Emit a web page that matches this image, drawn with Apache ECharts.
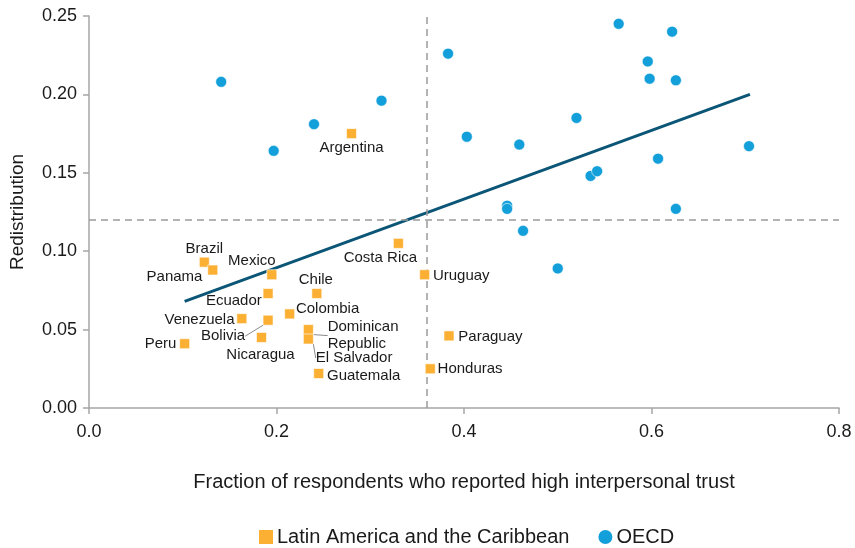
<!DOCTYPE html>
<html>
<head>
<meta charset="utf-8">
<script src="https://cdn.jsdelivr.net/npm/echarts@6/dist/echarts.min.js"></script>
<style>
html,body{margin:0;padding:0;background:#fff;}
#chart{width:855px;height:548px;}
</style>
</head>
<body>
<div id="chart"></div>
<script>
// ---- data ----
const lacNames = ['Argentina','Brazil','Panama','Mexico','Ecuador','Chile','Colombia','Venezuela','Bolivia','Nicaragua','Peru','Dominican\nRepublic','El Salvador','Guatemala','Costa Rica','Uruguay','Paraguay','Honduras'];
const lacTrust = [0.280,0.123,0.132,0.195,0.191,0.243,0.214,0.163,0.191,0.184,0.102,0.234,0.234,0.245,0.330,0.358,0.384,0.364];
const lacRedist = [0.175,0.093,0.088,0.085,0.073,0.073,0.060,0.057,0.056,0.045,0.041,0.050,0.044,0.022,0.105,0.085,0.046,0.025];

const oecdTrust = [0.141,0.197,0.240,0.312,0.383,0.403,0.459,0.520,0.565,0.622,0.596,0.598,0.626,0.704,0.607,0.535,0.542,0.446,0.446,0.626,0.463,0.500];
const oecdRedist = [0.208,0.164,0.181,0.196,0.226,0.173,0.168,0.185,0.245,0.240,0.221,0.210,0.209,0.167,0.159,0.148,0.151,0.129,0.127,0.127,0.113,0.089];

const trendTrust = [0.102,0.705];
const trendRedist = [0.068,0.200];

const avgTrust = 0.365;
const avgRedist = 0.122;

const xTickLabels = ['0.0','0.2','0.4','0.6','0.8'];
const yTickLabels = ['0.00','0.05','0.10','0.15','0.20','0.25'];

const seriesNames = ['Latin America and the Caribbean','OECD'];
const xTitle = 'Fraction of respondents who reported high interpersonal trust';
const yTitle = 'Redistribution';

// ---- label placement (styles, kept separate from data) ----
const labelPlace = {
  'Argentina': {position:'inside', shift:[0,14]},
  'Brazil': {position:'inside', shift:[0,-13]},
  'Panama': {position:'left', distance:5, shift:[0,6.5]},
  'Mexico': {position:'inside', shift:[-20,-14]},
  'Ecuador': {position:'left', distance:1, shift:[0,7]},
  'Chile': {position:'inside', shift:[-1,-14]},
  'Colombia': {position:'right', distance:1, shift:[0,-5.5]},
  'Venezuela': {position:'left', distance:2, shift:[0,1]},
  'Bolivia': {position:'inside', shift:[-45,16], leader:true},
  'Nicaragua': {position:'inside', shift:[-1,17.5]},
  'Peru': {position:'left', distance:3, shift:[0,0]},
  'Dominican\nRepublic': {position:'right', distance:5, shift:[9,6], leader:true},
  'El Salvador': {position:'right', distance:5, shift:[-3,19], leader:true},
  'Guatemala': {position:'right', distance:3, shift:[0,2]},
  'Costa Rica': {position:'inside', shift:[-18,14]},
  'Uruguay': {position:'right', distance:3, shift:[0,1.5]},
  'Paraguay': {position:'right', distance:4, shift:[0,1]},
  'Honduras': {position:'right', distance:2, shift:[0,0.5]}
};

const FONT = '"Liberation Sans", Arial, sans-serif';
const ORANGE = '#FBB034';
const BLUE = '#129FDA';
const TEXT = '#1a1a1a';

const lacData = lacNames.map((n,i) => {
  const p = labelPlace[n];
  const item = {
    name: n,
    value: [lacTrust[i], lacRedist[i]],
    label: {position: p.position}
  };
  if (p.distance !== undefined) item.label.distance = p.distance;
  item.labelLine = {show: !!p.leader};
  return item;
});
const oecdData = oecdTrust.map((x,i) => [x, oecdRedist[i]]);
const trendData = trendTrust.map((x,i) => [x, trendRedist[i]]);

const chart = echarts.init(document.getElementById('chart'), null, {renderer:'canvas'});
chart.setOption({
  animation: false,
  textStyle: {fontFamily: FONT},
  grid: {left: 89, right: 16, top: 16, bottom: 140, containLabel: false},
  legend: {
    data: [{name: seriesNames[0], icon: 'rect'}, {name: seriesNames[1], icon: 'circle'}],
    left: 252, top: 522,
    itemWidth: 16, itemHeight: 16, itemGap: 27,
    textStyle: {fontFamily: FONT, fontSize: 20, color: TEXT, padding: [0,0,0,-2]}
  },
  xAxis: {
    type: 'value', min: 0, max: 0.8, interval: 0.2,
    name: xTitle, nameLocation: 'middle', nameGap: 64,
    nameTextStyle: {fontFamily: FONT, fontSize: 20, color: TEXT},
    axisLine: {show: true, lineStyle: {color: '#a6a6a6', width: 1.5}},
    axisTick: {show: true, length: 6, lineStyle: {color: '#a6a6a6', width: 1.5}},
    axisLabel: {fontFamily: FONT, fontSize: 18, color: TEXT, margin: 15,
      formatter: (v) => xTickLabels[Math.round(v/0.2)]},
    splitLine: {show: false}
  },
  yAxis: {
    type: 'value', min: 0, max: 0.25, interval: 0.05,
    name: yTitle, nameLocation: 'middle', nameGap: 62, nameRotate: 90,
    nameTextStyle: {fontFamily: FONT, fontSize: 19, color: TEXT},
    axisLine: {show: true, lineStyle: {color: '#a6a6a6', width: 1.5}},
    axisTick: {show: true, length: 6, lineStyle: {color: '#a6a6a6', width: 1.5}},
    axisLabel: {fontFamily: FONT, fontSize: 18, color: TEXT, margin: 12,
      formatter: (v) => yTickLabels[Math.round(v/0.05)]},
    splitLine: {show: false}
  },
  series: [
    {
      name: 'ref', type: 'line', data: [], silent: true,
      markLine: {
        silent: true, symbol: ['none','none'], label: {show: false},
        lineStyle: {color: '#9a9a9a', type: [7,5], width: 1.5},
        data: [{xAxis: avgTrust}, {yAxis: avgRedist}]
      }
    },
    {
      name: 'trend', type: 'line', data: trendData, showSymbol: false, symbol: 'none',
      lineStyle: {color: '#0b5677', width: 3}, z: 3
    },
    {
      name: seriesNames[1], type: 'scatter', data: oecdData,
      symbol: 'circle', symbolSize: 11,
      itemStyle: {color: BLUE, borderColor: '#ffffff', borderWidth: 0.6, opacity: 1},
      z: 4
    },
    {
      name: seriesNames[0], type: 'scatter', data: lacData,
      symbol: 'rect', symbolSize: 10,
      itemStyle: {color: ORANGE, borderColor: '#ffffff', borderWidth: 0.6, opacity: 1},
      label: {show: true, formatter: '{b}', fontFamily: FONT, fontSize: 15, color: TEXT, lineHeight: 17},
      labelLine: {show: true, lineStyle: {color: '#8a8a8a', width: 1}},
      labelLayout: function (params) {
        const p = labelPlace[lacNames[params.dataIndex]];
        return {dx: p.shift[0], dy: p.shift[1]};
      },
      z: 5
    }
  ]
});
</script>
</body>
</html>
